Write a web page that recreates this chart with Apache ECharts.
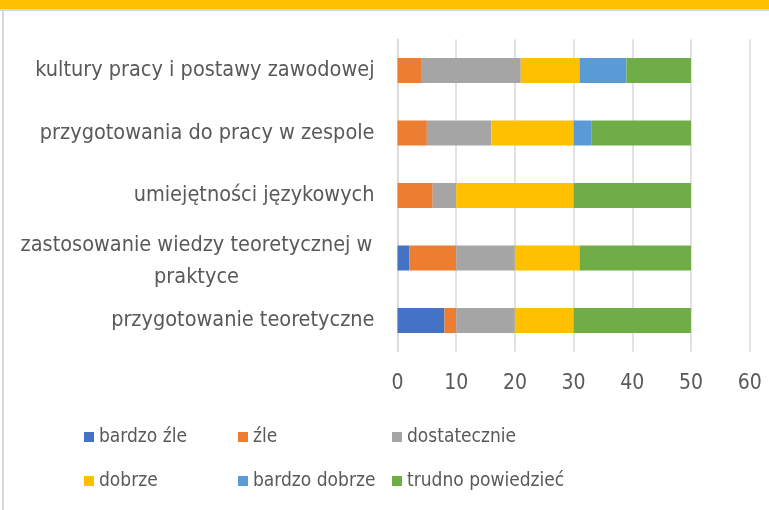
<!DOCTYPE html>
<html>
<head>
<meta charset="utf-8">
<script src="https://cdn.jsdelivr.net/npm/echarts@6/dist/echarts.min.js"></script>
<style>
html,body{margin:0;padding:0;background:#fff;}
#chart{width:769px;height:510px;}
</style>
</head>
<body>
<div id="chart"></div>
<script>
// Categories, bottom to top (ECharts draws first category at the bottom)
const categories = [
  'przygotowanie teoretyczne',
  'zastosowanie wiedzy teoretycznej w\npraktyce',
  'umiejętności językowych',
  'przygotowania do pracy w zespole',
  'kultury pracy i postawy zawodowej'
];
const seriesNames = ['bardzo źle', 'źle', 'dostatecznie', 'dobrze', 'bardzo dobrze', 'trudno powiedzieć'];
const bardzoZle    = [8, 2, 0, 0, 0];
const zle          = [2, 8, 6, 5, 4];
const dostatecznie = [10, 10, 4, 11, 17];
const dobrze       = [10, 11, 20, 14, 10];
const bardzoDobrze = [0, 0, 0, 3, 8];
const trudno       = [20, 19, 20, 17, 11];
const xTicks = [0, 10, 20, 30, 40, 50, 60];

const seriesData = [bardzoZle, zle, dostatecznie, dobrze, bardzoDobrze, trudno];
const colors = ['#4472c4', '#ed7d31', '#a5a5a5', '#ffc000', '#5b9bd5', '#70ad47'];
const FONT = '"DejaVu Sans Condensed", "Liberation Sans Narrow", sans-serif';
const TXT = '#595959';
const FS_Y = 21.5;
const FS_X = 21;
const FS_L = 19;

const chart = echarts.init(document.getElementById('chart'));

const legendPos = [
  {left: 84, top: 425}, {left: 238, top: 425}, {left: 392, top: 425},
  {left: 84, top: 469}, {left: 238, top: 469}, {left: 392, top: 469}
];

const yData = categories.map(function (c) {
  if (c.indexOf('\n') < 0) return c;
  return {value: c, textStyle: {padding: [7, 0, 0, 0]}};
});

chart.setOption({
  animation: false,
  color: colors,
  graphic: [
    {type: 'rect', shape: {x: 0, y: 0, width: 769, height: 9}, style: {fill: '#ffc000'}, silent: true},
    {type: 'rect', shape: {x: 0, y: 9, width: 769, height: 2}, style: {fill: '#d9d9d9'}, silent: true},
    {type: 'rect', shape: {x: 2, y: 9, width: 2, height: 501}, style: {fill: '#d9d9d9'}, silent: true}
  ],
  grid: {left: 397.5, right: 19.3, top: 39.25, height: 312.5, containLabel: false},
  xAxis: {
    type: 'value', min: xTicks[0], max: xTicks[xTicks.length - 1], interval: 10,
    axisLine: {show: false}, axisTick: {show: false},
    splitLine: {lineStyle: {color: '#d9d9d9', width: 1.5}},
    axisLabel: {color: TXT, fontFamily: FONT, fontSize: FS_X, margin: 21}
  },
  yAxis: {
    type: 'category', data: yData,
    axisLine: {show: true, lineStyle: {color: '#d9d9d9', width: 1.5}},
    axisTick: {show: false},
    axisLabel: {
      color: TXT, fontFamily: FONT, fontSize: FS_Y, margin: 23, lineHeight: 32,
      formatter: function (v) {
        if (v.indexOf('\n') < 0) return v;
        return v.split('\n').map(function (l) { return '{c|' + l + '}'; }).join('\n');
      },
      rich: {c: {width: 356, align: 'center', fontFamily: FONT, fontSize: FS_Y, color: TXT, lineHeight: 32}}
    }
  },
  legend: seriesNames.map(function (n, i) {
    return {
      data: [n], left: legendPos[i].left, top: legendPos[i].top, padding: 0,
      itemWidth: 10, itemHeight: 10, icon: 'rect', selectedMode: false,
      textStyle: {color: TXT, fontFamily: FONT, fontSize: FS_L, lineHeight: 24}
    };
  }),
  series: seriesNames.map(function (n, i) {
    return {
      name: n, type: 'bar', stack: 'total', data: seriesData[i],
      barWidth: '40%', itemStyle: {color: colors[i]}
    };
  })
});
</script>
</body>
</html>
